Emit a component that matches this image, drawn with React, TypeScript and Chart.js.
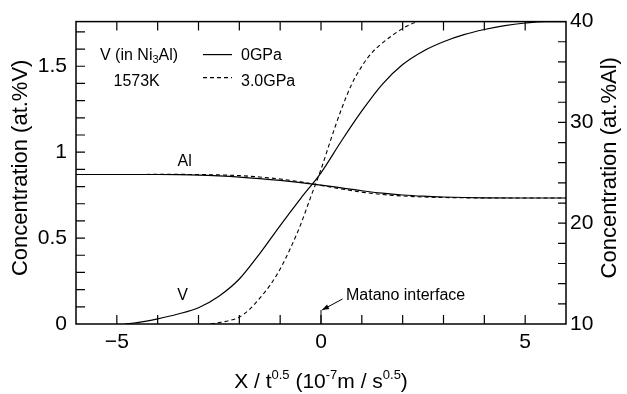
import React, { useEffect, useRef } from "react";
import { Chart, registerables } from "chart.js";

Chart.register(...registerables);

const FONT = '"Liberation Sans", Arial, Helvetica, sans-serif';

// V concentration (at.%V), 0 GPa (solid)
const vX0 = [-4.8, -4.5, -4, -3.5, -3, -2.5, -2, -1.5, -1, -0.5, 0, 0.5, 1, 1.5, 2, 2.5, 3, 3.5, 4, 4.5, 5, 5.5, 6];
const v0 = [0, 0.008, 0.03, 0.058, 0.095, 0.162, 0.262, 0.41, 0.573, 0.73, 0.88, 1.065, 1.24, 1.395, 1.51, 1.588, 1.643, 1.684, 1.714, 1.737, 1.752, 1.76, 1.76];

// V concentration (at.%V), 3.0 GPa (dashed)
const vX3 = [-2.7, -2.5, -2.25, -2, -1.75, -1.5, -1.25, -1, -0.75, -0.5, -0.25, 0, 0.25, 0.5, 0.75, 1, 1.25, 1.5, 1.75, 2, 2.2, 2.35];
const v3 = [0, 0.008, 0.02, 0.04, 0.085, 0.15, 0.225, 0.32, 0.44, 0.578, 0.74, 0.9, 1.08, 1.25, 1.395, 1.5, 1.58, 1.635, 1.68, 1.72, 1.745, 1.76];

// Al concentration (at.%Al)
const alX = [-6, -5, -4, -3.5, -3, -2.5, -2, -1.5, -1, -0.5, 0, 0.5, 1, 1.5, 2, 2.5, 3, 3.5, 4, 5, 6];
const al0 = [24.83, 24.83, 24.83, 24.81, 24.77, 24.69, 24.58, 24.43, 24.25, 24.03, 23.78, 23.5, 23.22, 22.98, 22.8, 22.68, 22.6, 22.55, 22.52, 22.5, 22.5];
const al3 = [24.83, 24.83, 24.84, 24.84, 24.83, 24.79, 24.72, 24.58, 24.38, 24.1, 23.75, 23.4, 23.08, 22.85, 22.7, 22.6, 22.55, 22.52, 22.5, 22.5, 22.5];

const xTickLabels = [-5, 0, 5];
const leftTickLabels = [0, 0.5, 1, 1.5];
const rightTickLabels = [10, 20, 30, 40];
const legendLabels = ["0GPa", "3.0GPa"];

const has = (arr: number[], v: number) => arr.some((a) => Math.abs(a - v) < 1e-6);
const fmt = (v: number) => (v < 0 ? "\u2212" + Math.abs(v) : String(v));
const pts = (xs: number[], ys: number[]) => xs.map((x, i) => ({ x, y: ys[i] }));

const tickFont = { family: FONT, size: 21 };

const decorPlugin = {
  id: "decor",
  afterDraw(chart: any) {
    const ctx = chart.ctx as CanvasRenderingContext2D;
    const { left, right, top, bottom } = chart.chartArea;
    const xs = chart.scales.x;
    const ys = chart.scales.y;
    const y2 = chart.scales.y2;
    ctx.save();
    ctx.strokeStyle = "#000";
    ctx.fillStyle = "#000";
    ctx.lineWidth = 1.5;
    ctx.strokeRect(left, top, right - left, bottom - top);

    // inward tick marks
    const T = 9;
    ctx.lineWidth = 1.2;
    ctx.beginPath();
    xs.ticks.forEach((t: any) => {
      const p = xs.getPixelForValue(t.value);
      if (p <= left + 1 || p >= right - 1) return;
      ctx.moveTo(p, bottom);
      ctx.lineTo(p, bottom - T);
      ctx.moveTo(p, top);
      ctx.lineTo(p, top + T);
    });
    ys.ticks.forEach((t: any) => {
      const p = ys.getPixelForValue(t.value);
      if (p >= bottom - 1 || p <= top + 1) return;
      ctx.moveTo(left, p);
      ctx.lineTo(left + T, p);
    });
    y2.ticks.forEach((t: any) => {
      const p = y2.getPixelForValue(t.value);
      if (p >= bottom - 1 || p <= top + 1) return;
      ctx.moveTo(right, p);
      ctx.lineTo(right - 8, p);
    });
    ctx.stroke();

    // axis titles
    const midY = (top + bottom) / 2 - 5;
    ctx.font = `22px ${FONT}`;
    ctx.textAlign = "center";
    ctx.textBaseline = "middle";
    ctx.save();
    ctx.translate(21, midY);
    ctx.rotate(-Math.PI / 2);
    ctx.fillText("Concentration (at.%V)", 0, 0);
    ctx.restore();
    ctx.save();
    ctx.translate(610, midY);
    ctx.rotate(-Math.PI / 2);
    ctx.fillText("Concentration (at.%Al)", 0, 0);
    ctx.restore();

    // x title with superscripts
    const parts: [string, boolean][] = [
      ["X / t", false],
      ["0.5", true],
      [" (10", false],
      ["-7", true],
      ["m / s", false],
      ["0.5", true],
      [")", false],
    ];
    const big = `21px ${FONT}`;
    const small = `13px ${FONT}`;
    let total = 0;
    parts.forEach(([s, sup]) => {
      ctx.font = sup ? small : big;
      total += ctx.measureText(s).width;
    });
    let cx = (left + right) / 2 - total / 2;
    const base = 388;
    ctx.textAlign = "left";
    ctx.textBaseline = "alphabetic";
    parts.forEach(([s, sup]) => {
      ctx.font = sup ? small : big;
      ctx.fillText(s, cx, sup ? base - 9 : base);
      cx += ctx.measureText(s).width;
    });

    // legend / info block
    const f16 = `16px ${FONT}`;
    ctx.font = f16;
    let lx = left + 24;
    const row1 = top + 38.5;
    const row2 = top + 64;
    ctx.fillText("V (in Ni", lx, row1);
    lx += ctx.measureText("V (in Ni").width;
    ctx.font = `11px ${FONT}`;
    ctx.fillText("3", lx, row1 + 3);
    lx += ctx.measureText("3").width;
    ctx.font = f16;
    ctx.fillText("Al)", lx, row1);
    ctx.fillText("1573K", left + 37.5, row2);

    const lineX0 = left + 127;
    const lineX1 = left + 156;
    ctx.lineWidth = 1.2;
    ctx.beginPath();
    ctx.moveTo(lineX0, row1 - 5.5);
    ctx.lineTo(lineX1, row1 - 5.5);
    ctx.stroke();
    ctx.setLineDash([4, 3]);
    ctx.lineWidth = 1.1;
    ctx.beginPath();
    ctx.moveTo(lineX0, row2 - 8);
    ctx.lineTo(lineX1, row2 - 8);
    ctx.stroke();
    ctx.setLineDash([]);
    ctx.fillText(legendLabels[0], left + 165, row1);
    ctx.fillText(legendLabels[1], left + 165, row2);

    // curve labels
    ctx.textAlign = "center";
    ctx.fillText("Al", xs.getPixelForValue(-3.34), ys.getPixelForValue(0.92));
    ctx.fillText("V", xs.getPixelForValue(-3.39), ys.getPixelForValue(0.139));

    // Matano interface marker
    const p0 = xs.getPixelForValue(0);
    ctx.lineWidth = 1;
    ctx.beginPath();
    ctx.moveTo(p0, bottom);
    ctx.lineTo(p0, bottom - 14);
    ctx.stroke();
    const tipX = p0 + 1;
    const tipY = bottom - 14;
    const sx = p0 + 21.5;
    const sy = bottom - 25;
    ctx.beginPath();
    ctx.moveTo(sx, sy);
    ctx.lineTo(tipX, tipY);
    ctx.stroke();
    const ang = Math.atan2(tipY - sy, tipX - sx);
    const hl = 7;
    const hw = 2.5;
    ctx.beginPath();
    ctx.moveTo(tipX, tipY);
    ctx.lineTo(tipX - hl * Math.cos(ang) + hw * Math.sin(ang), tipY - hl * Math.sin(ang) - hw * Math.cos(ang));
    ctx.lineTo(tipX - hl * Math.cos(ang) - hw * Math.sin(ang), tipY - hl * Math.sin(ang) + hw * Math.cos(ang));
    ctx.closePath();
    ctx.fill();
    ctx.textAlign = "left";
    ctx.font = f16;
    ctx.fillText("Matano interface", p0 + 25, bottom - 24);

    ctx.restore();
  },
};

export default function App() {
  const ref = useRef<HTMLCanvasElement | null>(null);

  useEffect(() => {
    if (!ref.current) return;
    const chart = new Chart(ref.current, {
      type: "line",
      data: {
        datasets: [
          { label: "V 0GPa", data: pts(vX0, v0), yAxisID: "y", borderColor: "#000", borderWidth: 1.2, pointRadius: 0, cubicInterpolationMode: "monotone", fill: false },
          { label: "V 3.0GPa", data: pts(vX3, v3), yAxisID: "y", borderColor: "#000", borderWidth: 1.1, borderDash: [4, 3], pointRadius: 0, cubicInterpolationMode: "monotone", fill: false },
          { label: "Al 0GPa", data: pts(alX, al0), yAxisID: "y2", borderColor: "#000", borderWidth: 1.2, pointRadius: 0, cubicInterpolationMode: "monotone", fill: false },
          { label: "Al 3.0GPa", data: pts(alX, al3), yAxisID: "y2", borderColor: "#000", borderWidth: 1.1, borderDash: [4, 3], pointRadius: 0, cubicInterpolationMode: "monotone", fill: false },
        ],
      },
      options: {
        responsive: false,
        animation: false,
        devicePixelRatio: 1,
        layout: { padding: { top: 16, left: 0, right: 0, bottom: 0 } },
        plugins: { legend: { display: false }, tooltip: { enabled: false } },
        scales: {
          x: {
            type: "linear",
            min: -6,
            max: 6,
            grid: { display: false, drawTicks: false },
            border: { display: false },
            ticks: {
              stepSize: 1,
              autoSkip: false,
              maxRotation: 0,
              padding: 6,
              color: "#000",
              font: tickFont,
              callback: (v: any) => (has(xTickLabels, Number(v)) ? fmt(Number(v)) : ""),
            },
            afterFit: (s: any) => {
              s.height = 70;
            },
          },
          y: {
            type: "linear",
            position: "left",
            min: 0,
            max: 1.76,
            grid: { display: false, drawTicks: false },
            border: { display: false },
            ticks: {
              stepSize: 0.1,
              includeBounds: false,
              autoSkip: false,
              padding: 9,
              color: "#000",
              font: tickFont,
              callback: (v: any) => (has(leftTickLabels, Number(v)) ? fmt(Number(v)) : ""),
            },
            afterFit: (s: any) => {
              s.width = 76;
            },
          },
          y2: {
            type: "linear",
            position: "right",
            min: 10,
            max: 40,
            grid: { display: false, drawTicks: false },
            border: { display: false },
            ticks: {
              stepSize: 2,
              includeBounds: false,
              autoSkip: false,
              padding: 4,
              color: "#000",
              font: tickFont,
              callback: (v: any) => (has(rightTickLabels, Number(v)) ? fmt(Number(v)) : ""),
            },
            afterFit: (s: any) => {
              s.width = 61;
            },
          },
        },
      } as any,
      plugins: [decorPlugin],
    });
    return () => chart.destroy();
  }, []);

  return (
    <div style={{ position: "fixed", left: 0, top: 0, width: 627, height: 394, background: "#fff" }}>
      <canvas ref={ref} width={627} height={394} style={{ display: "block" }} />
    </div>
  );
}
